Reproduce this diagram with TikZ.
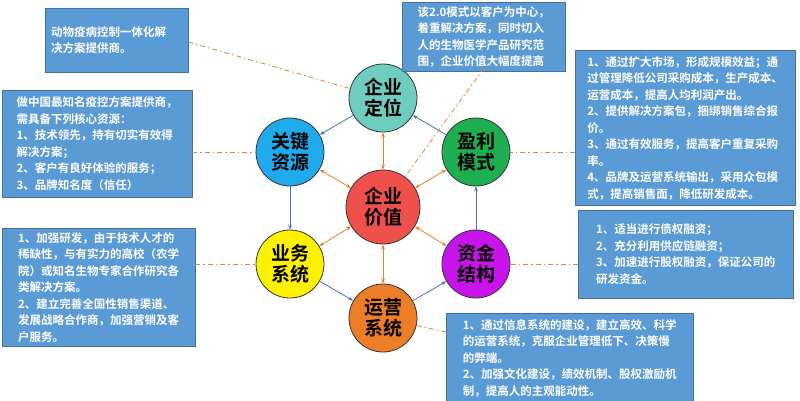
\documentclass[tikz,border=0pt]{standalone}
\usepackage{fontspec}
\setmainfont{Noto Sans CJK SC}[BoldFont={Noto Sans CJK SC Bold}]
\usetikzlibrary{arrows.meta}
\definecolor{boxblue}{HTML}{5B9BD5}
\definecolor{boxedge}{HTML}{41719C}
\definecolor{linkor}{HTML}{ED7D31}
\definecolor{ringblue}{HTML}{4472C4}
\tikzset{
  info/.style={draw=boxedge,fill=boxblue,text=white,font=\bfseries\fontsize{11.5}{16.5}\selectfont,
    align=left,anchor=north west,inner sep=6pt},
  ball/.style={circle,draw=black!80,thick,minimum size=68pt,inner sep=0pt,
    font=\bfseries\fontsize{19}{21}\selectfont,align=center},
  ring/.style={draw=ringblue,thick,-{Stealth[length=5pt]}},
  core/.style={draw=linkor,thick,{Stealth[length=5pt]}-{Stealth[length=5pt]}},
  hint/.style={draw=linkor,thick,dash pattern=on 5pt off 3pt on 1.5pt off 3pt}
}
\begin{document}
\begin{tikzpicture}[x=1pt,y=-1pt]
\useasboundingbox (0,0) rectangle (800,400);
% circles
\node[ball,fill={rgb,255:red,110;green,205;blue,190}] (pos) at (383,98) {企业\\定位};
\node[ball,fill={rgb,255:red,30;green,170;blue,235}] (res) at (290,152) {关键\\资源};
\node[ball,fill={rgb,255:red,30;green,175;blue,80}] (prof) at (476,152) {盈利\\模式};
\node[ball,fill={rgb,255:red,240;green,80;blue,75},minimum size=74pt] (val) at (383,207) {企业\\价值};
\node[ball,fill=yellow] (biz) at (290,264) {业务\\系统};
\node[ball,fill={rgb,255:red,200;green,20;blue,235}] (fund) at (476,264) {资金\\结构};
\node[ball,fill={rgb,255:red,238;green,125;blue,40}] (ops) at (383,318) {运营\\系统};
% blue ring
\draw[ring] (pos) -- (res);
\draw[ring] (res) -- (biz);
\draw[ring] (biz) -- (ops);
\draw[ring] (ops) -- (fund);
\draw[ring] (fund) -- (prof);
\draw[ring] (prof) -- (pos);
% orange links to the centre
\foreach \n in {pos,res,prof,biz,fund,ops} \draw[core] (val) -- (\n);
% boxes
\node[info,minimum width=143pt,minimum height=64pt,text width=131pt] (b1) at (45,8)
  {动物疫病控制一体化解\\决方案提供商。};
\node[info,minimum width=190pt,minimum height=107pt] (b2) at (2,90)
  {做中国最知名疫控方案提供商，\\需具备下列核心资源：\\1、技术领先，持有切实有效得\\解决方案；\\2、客户有良好体验的服务；\\3、品牌知名度（信任）};
\node[info,inner sep=4pt,minimum width=163pt,minimum height=64pt] (b3) at (402,2)
  {该2.0模式以客户为中心，\\着重解决方案，同时切入\\人的生物医学产品研究范\\围，企业价值大幅度提高};
\node[info,minimum width=220pt,minimum height=142pt] (b4) at (575,50)
  {1、通过扩大市场，形成规模效益；通\\过管理降低公司采购成本，生产成本、\\运营成本，提高人均利润产出。\\2、提供解决方案包，捆绑销售综合报\\价。\\3、通过有效服务，提高客户重复采购\\率。\\4、品牌及运营系统输出，采用众包模\\式，提高销售面，降低研发成本。};
\node[info,inner sep=4pt,minimum width=193pt,minimum height=114pt] (b5) at (2,228)
  {1、加强研发，由于技术人才的\\稀缺性，与有实力的高校（农学\\院）或知名生物专家合作研究各\\类解决方案。\\2、建立完善全国性销售渠道、\\发展战略合作商，加强营销及客\\户服务。};
\node[info,minimum width=215pt,minimum height=88pt] (b6) at (578,210)
  {1、适当进行债权融资；\\2、充分利用供应链融资；\\3、加速进行股权融资，保证公司的\\研发资金。};
\node[info,minimum width=247pt,minimum height=84pt] (b7) at (446,313)
  {1、通过信息系统的建设，建立高效、科学\\的运营系统，克服企业管理低下、决策慢\\的弊端。\\2、加强文化建设，绩效机制、股权激励机\\制，提高人的主观能动性。};
% dash-dot hints
\draw[hint] (b1.east |- 0,42) -- (pos);
\draw[hint] (b2.east |- res) -- (res);
\coordinate (b3foot) at (484,68);
\draw[hint] (b3foot) -- (val);
\draw[hint] (b4.west |- prof) -- (prof);
\draw[hint] (b5.east |- biz) -- (biz);
\draw[hint] (b6.west |- fund) -- (fund);
\draw[hint] (b7.west |- 0,332) -- (ops);
\end{tikzpicture}
\end{document}
